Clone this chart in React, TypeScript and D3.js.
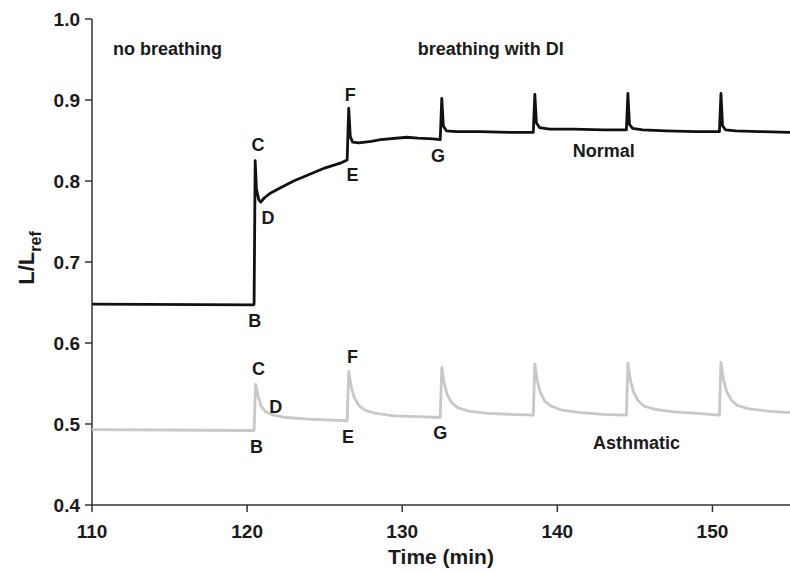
import * as d3 from "d3";

// ── Data ──────────────────────────────────────────────────────────────────────

const xTicks = [110, 120, 130, 140, 150];
const yTicks = [0.4, 0.5, 0.6, 0.7, 0.8, 0.9, 1.0];

// Normal trace: time (min) and L/Lref
const normalTime = [
  110, 120.4, 120.45, 120.52, 120.6, 120.75, 120.88, 121.1, 121.5, 122, 123, 124, 125, 126, 126.45,
  126.55, 126.65, 126.8, 127.2, 128, 128.6, 130.3, 131, 132, 132.45,
  132.55, 132.65, 132.85, 133.5, 135, 137, 138.45,
  138.55, 138.65, 138.85, 139.5, 141, 143, 144.45,
  144.55, 144.65, 144.85, 145.5, 147, 149, 150.45,
  150.55, 150.65, 150.85, 151.5, 153, 155,
];
const normalValue = [
  0.648, 0.647, 0.648, 0.825, 0.79, 0.777, 0.774, 0.779, 0.785, 0.79, 0.8, 0.808, 0.816, 0.822, 0.826,
  0.89, 0.855, 0.848, 0.847, 0.849, 0.851, 0.854, 0.853, 0.852, 0.851,
  0.902, 0.868, 0.862, 0.861, 0.861, 0.86, 0.86,
  0.907, 0.872, 0.866, 0.864, 0.864, 0.863, 0.863,
  0.908, 0.87, 0.865, 0.863, 0.862, 0.861, 0.861,
  0.908, 0.868, 0.863, 0.862, 0.861, 0.86,
];

// Asthmatic trace
const asthmaticTime = [
  110, 120.45, 120.55, 120.7, 120.9, 121.2, 121.7, 122.5, 124, 126.45,
  126.55, 126.7, 126.9, 127.2, 127.6, 128.3, 129.5, 131, 132.45,
  132.55, 132.7, 132.9, 133.2, 133.6, 134.3, 135.5, 137, 138.45,
  138.55, 138.7, 138.9, 139.2, 139.6, 140.3, 141.5, 143, 144.45,
  144.55, 144.7, 144.9, 145.2, 145.6, 146.3, 147.5, 149, 150.45,
  150.55, 150.7, 150.9, 151.2, 151.6, 152.3, 153.5, 155,
];
const asthmaticValue = [
  0.493, 0.492, 0.549, 0.535, 0.522, 0.515, 0.511, 0.508, 0.506, 0.504,
  0.565, 0.547, 0.533, 0.523, 0.517, 0.513, 0.51, 0.509, 0.508,
  0.57, 0.551, 0.536, 0.526, 0.52, 0.516, 0.513, 0.512, 0.511,
  0.574, 0.554, 0.539, 0.528, 0.522, 0.517, 0.514, 0.512, 0.511,
  0.575, 0.555, 0.54, 0.529, 0.522, 0.518, 0.515, 0.513, 0.511,
  0.576, 0.556, 0.541, 0.53, 0.523, 0.519, 0.516, 0.514,
];

// Point labels (letter, time, value at text centre)
const normalLabels = ["C", "D", "B", "E", "F", "G"];
const normalLabelTime = [120.7, 121.35, 120.5, 126.8, 126.65, 132.3];
const normalLabelValue = [0.845, 0.755, 0.628, 0.808, 0.907, 0.831];

const asthmaticLabels = ["C", "D", "B", "E", "F", "G"];
const asthmaticLabelTime = [120.73, 121.85, 120.6, 126.5, 126.8, 132.45];
const asthmaticLabelValue = [0.568, 0.522, 0.472, 0.484, 0.583, 0.49];

// ── Chart ─────────────────────────────────────────────────────────────────────

const W = 790;
const H = 572;
const FONT = "'Liberation Sans', Arial, sans-serif";

export default function App() {
  const x = d3.scaleLinear().domain([110, 155]).range([92, 790]);
  const y = d3.scaleLinear().domain([0.4, 1.0]).range([505, 19]);

  const line = d3
    .line<[number, number]>()
    .x((d) => x(d[0]))
    .y((d) => y(d[1]));

  const normal = normalTime.map((t, i) => [t, normalValue[i]] as [number, number]);
  const asthmatic = asthmaticTime.map((t, i) => [t, asthmaticValue[i]] as [number, number]);

  const axisColor = "#333";
  const ink = "#1a1a1a";

  return (
    <div style={{ position: "fixed", left: 0, top: 0 }}>
      <svg width={W} height={H} style={{ display: "block", background: "#fff" }} fontFamily={FONT}>
        {/* axes */}
        <line x1={x(110)} x2={x(155)} y1={y(0.4)} y2={y(0.4)} stroke={axisColor} strokeWidth={1.5} />
        <line x1={x(110)} x2={x(110)} y1={y(1.0)} y2={y(0.4)} stroke={axisColor} strokeWidth={1.5} />
        {xTicks.map((t) => (
          <g key={"x" + t}>
            <line x1={x(t)} x2={x(t)} y1={y(0.4)} y2={y(0.4) + 7} stroke={axisColor} strokeWidth={1.5} />
            <text x={x(t)} y={y(0.4) + 33} textAnchor="middle" fontSize={19} fontWeight={700} fill={ink}>
              {t}
            </text>
          </g>
        ))}
        {yTicks.map((v) => (
          <g key={"y" + v}>
            <line x1={x(110) - 7} x2={x(110)} y1={y(v)} y2={y(v)} stroke={axisColor} strokeWidth={1.5} />
            <text x={x(110) - 12} y={y(v) + 7} textAnchor="end" fontSize={19} fontWeight={700} fill={ink}>
              {v.toFixed(1)}
            </text>
          </g>
        ))}

        {/* axis titles */}
        <text x={x(132.5)} y={564} textAnchor="middle" fontSize={21} fontWeight={700} fill={ink}>
          Time (min)
        </text>
        <text transform="translate(34,258) rotate(-90)" textAnchor="middle" fontSize={22} fontWeight={700} fill={ink}>
          L/L
          <tspan fontSize={16} dy={7}>ref</tspan>
        </text>

        {/* phase labels */}
        <text x={x(111.35)} y={y(0.955)} fontSize={18} fontWeight={700} fill={ink}>
          no breathing
        </text>
        <text x={x(131)} y={y(0.955)} fontSize={18} fontWeight={700} fill={ink}>
          breathing with DI
        </text>

        {/* traces */}
        <path d={line(asthmatic) ?? ""} fill="none" stroke="#c8c8c8" strokeWidth={2.8} strokeLinejoin="round" />
        <path d={line(normal) ?? ""} fill="none" stroke="#111" strokeWidth={2.8} strokeLinejoin="round" />

        {/* point letters */}
        {normalLabels.map((l, i) => (
          <text key={"n" + i} x={x(normalLabelTime[i])} y={y(normalLabelValue[i])} dy="0.36em"
            textAnchor="middle" fontSize={18} fontWeight={700} fill={ink}>
            {l}
          </text>
        ))}
        {asthmaticLabels.map((l, i) => (
          <text key={"a" + i} x={x(asthmaticLabelTime[i])} y={y(asthmaticLabelValue[i])} dy="0.36em"
            textAnchor="middle" fontSize={18} fontWeight={700} fill={ink}>
            {l}
          </text>
        ))}
        <text x={x(143.0)} y={y(0.838)} dy="0.36em" textAnchor="middle" fontSize={18} fontWeight={700} fill={ink}>
          Normal
        </text>
        <text x={x(145.1)} y={y(0.477)} dy="0.36em" textAnchor="middle" fontSize={18} fontWeight={700} fill={ink}>
          Asthmatic
        </text>
      </svg>
    </div>
  );
}
